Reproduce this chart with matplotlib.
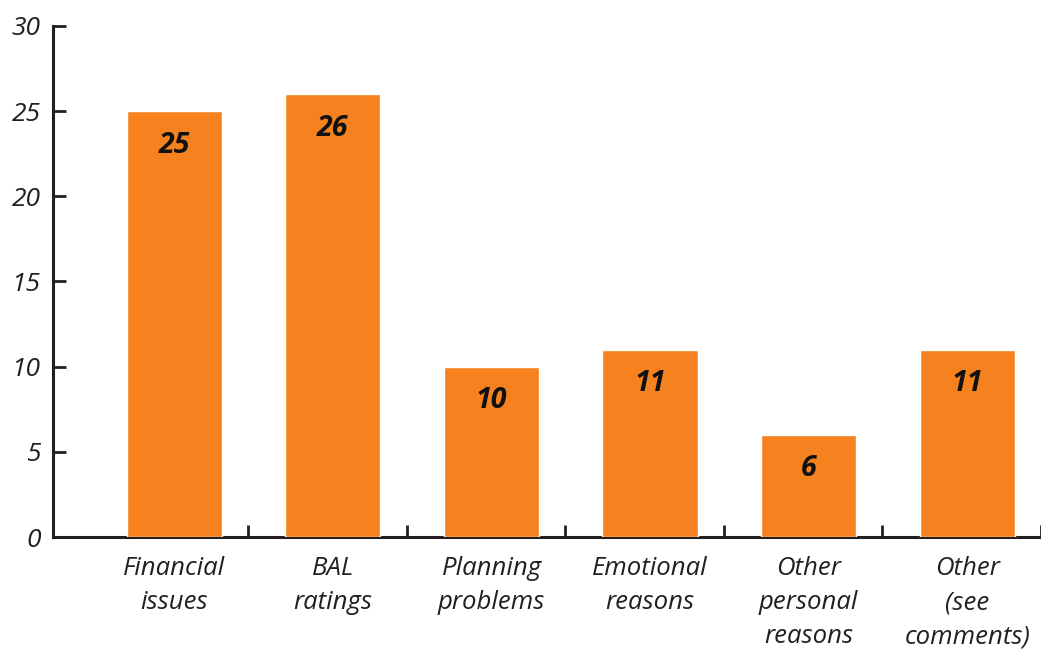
import matplotlib
matplotlib.use("Agg")
import matplotlib.pyplot as plt
import numpy as np

categories = ["Financial\nissues", "BAL\nratings", "Planning\nproblems",
              "Emotional\nreasons", "Other\npersonal\nreasons", "Other\n(see\ncomments)"]
values = [25, 26, 10, 11, 6, 11]
yticks = [0, 5, 10, 15, 20, 25, 30]

plt.rcParams['font.family'] = ['Open Sans', 'DejaVu Sans']

fig = plt.figure(figsize=(10.41, 6.51), dpi=100)
ax = fig.add_axes([0.0509, 0.1751, 1 - 0.0509, 0.785])

x = np.arange(len(categories))
bars = ax.bar(x, values, width=0.6, color="#F5821F", edgecolor="white", linewidth=1.0, zorder=2)

for xi, v in zip(x, values):
    ax.text(xi, v - 2.0, str(v), ha="center", va="center", fontsize=20.5,
            fontweight="bold", fontstyle="italic", color="#111111", zorder=3)

ax.set_xlim(-0.765, 5.37)
ax.set_ylim(0, 30)

ax.set_yticks(yticks)
ax.set_yticklabels([str(t) for t in yticks], fontsize=19, fontstyle="italic", color="#231F20")
ax.tick_params(axis="y", direction="in", length=9.5, width=2.0, color="#231F20", pad=9)

ax.set_xticks(x)
ax.set_xticklabels(categories, fontsize=18.5, fontstyle="italic", color="#231F20", linespacing=1.47)
ax.tick_params(axis="x", which="major", length=0, pad=14)
ax.set_xticks(np.arange(len(categories)) + 0.465, minor=True)
ax.tick_params(axis="x", which="minor", direction="in", length=9, width=2.0, color="#231F20")

for s in ["top", "right"]:
    ax.spines[s].set_visible(False)
for s in ["left", "bottom"]:
    ax.spines[s].set_linewidth(2.2)
    ax.spines[s].set_color("#231F20")
ax.spines["bottom"].set_zorder(1)

fig.savefig("out.png", dpi=100)
